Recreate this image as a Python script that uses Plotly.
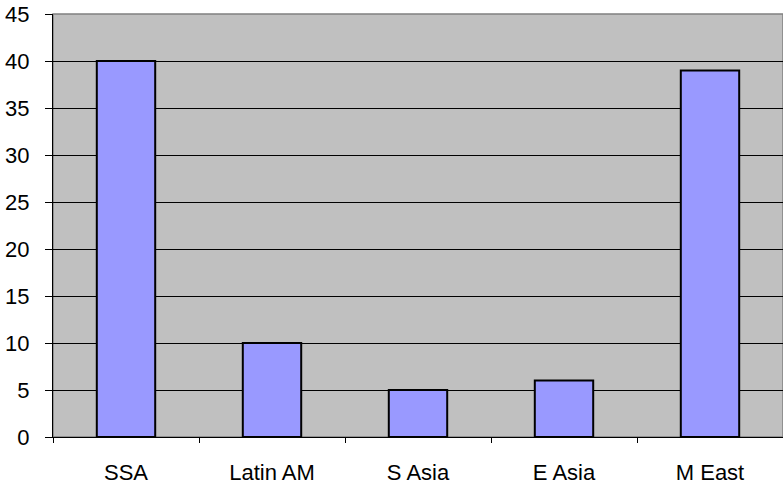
import plotly.graph_objects as go

# Regional values shown as bars
regions = ["SSA", "Latin AM", "S Asia", "E Asia", "M East"]
values = [40, 10, 5, 6, 39]

# Value axis ticks
y_ticks = [0, 5, 10, 15, 20, 25, 30, 35, 40, 45]

FONT = "Arial, 'Liberation Sans', sans-serif"

fig = go.Figure(
    go.Bar(
        x=regions,
        y=values,
        marker=dict(color="#9999FF", line=dict(color="#000000", width=2)),
        width=0.4,
    )
)

fig.update_layout(
    width=783,
    height=486,
    margin=dict(l=53, r=0, t=14, b=49),
    paper_bgcolor="#FFFFFF",
    plot_bgcolor="#C0C0C0",
    showlegend=False,
    font=dict(family=FONT, size=22, color="#000000"),
    shapes=[
        dict(
            type="rect", xref="paper", yref="paper",
            x0=0, x1=1, y0=0, y1=1,
            line=dict(color="#808080", width=1.5),
            layer="below",
        )
    ],
)

fig.update_xaxes(
    type="category",
    showgrid=False,
    showline=True,
    linecolor="#000000",
    linewidth=1,
    ticks="outside",
    tickson="boundaries",
    ticklen=5,
    tickcolor="#000000",
    ticklabelstandoff=16,
    zeroline=False,
)

fig.update_yaxes(
    range=[0, 45],
    tickvals=y_ticks,
    showgrid=True,
    gridcolor="#000000",
    gridwidth=1,
    showline=True,
    linecolor="#000000",
    linewidth=1,
    ticks="outside",
    ticklen=7,
    tickcolor="#000000",
    ticklabelstandoff=11,
    zeroline=False,
)

fig.write_html("out.html")
